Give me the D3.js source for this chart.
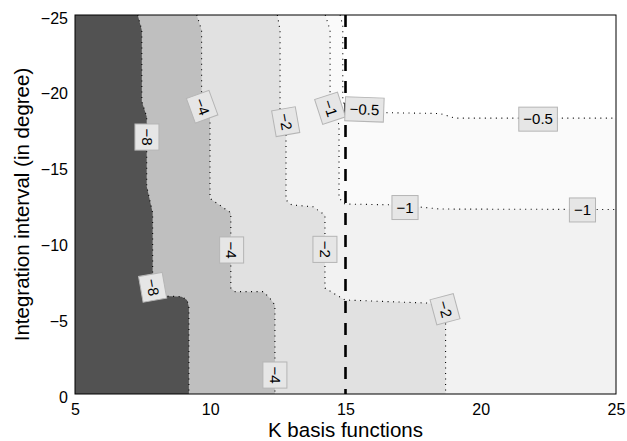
<html>
  <head>
    <meta charset="utf-8">
    <script src="https://cdnjs.cloudflare.com/ajax/libs/d3/7.8.5/d3.min.js"></script>
  </head>
  <body>
    <svg id="chart"></svg>

    <style>
      body {
        margin: 0;
        background: #fff;
        font-family: 'Liberation Sans', Arial, sans-serif;
      }
      #chart {
        display: block;
      }
      .axis text {
        font-size: 16px;
        fill: #000;
      }
      .axis path, .axis line {
        stroke: none;
      }
      .title {
        font-size: 20.5px;
        fill: #000;
      }
      .clabel text {
        font-size: 15px;
        fill: #000;
      }
    </style>

    <script>
      // Contour levels, from the lowest up
      const levels = [-8, -4, -2, -1, -0.5];

      // Contour lines as [K, interval] points
      const contour8 = [[7.32, -25], [7.47, -24.0], [7.47, -19.3], [7.65, -18.3], [7.65, -13.7],
        [7.87, -11.95], [7.87, -6.53], [8.33, -6.46], [8.94, -6.42], [9.14, -6.2], [9.21, -5.76], [9.21, 0]];
      const contour4 = [[9.50, -25], [9.68, -24.0], [9.68, -19.4], [9.99, -18.1], [9.99, -12.9],
        [10.76, -11.95], [10.76, -6.99], [10.92, -6.75], [11.96, -6.75], [12.21, -6.31], [12.39, -5.87], [12.39, 0]];
      const contour2 = [[12.48, -25], [12.58, -24.0], [12.58, -18.4], [12.80, -17.1], [12.80, -12.8],
        [13.01, -12.47], [13.80, -12.35], [14.24, -11.8], [14.24, -6.99], [14.98, -6.2], [18.0, -6.0],
        [18.5, -5.8], [18.70, -4.9], [18.70, 0]];
      const contour1 = [[14.25, -25], [14.43, -24.0], [14.43, -19.7], [14.76, -17.74], [14.76, -12.93],
        [14.98, -12.53], [17.0, -12.47], [18.5, -12.2], [25, -12.17]];
      const contour05 = [[14.80, -25], [14.90, -24.3], [14.90, -19.4], [15.06, -18.6], [18.49, -18.5],
        [19.05, -18.2], [25, -18.2]];

      // Inline contour labels
      const labelValues = [-8, -8, -4, -4, -4, -2, -2, -2, -1, -1, -1, -0.5, -0.5];
      const labelX = [7.66, 7.87, 9.70, 10.79, 12.39, 12.79, 14.24, 18.68, 14.43, 17.2, 23.76, 15.70, 22.12];
      const labelY = [-16.95, -7.04, -18.95, -9.5, -1.25, -17.96, -9.54, -5.59, -18.85, -12.3, -12.14, -18.77, -18.13];

      // Axis ticks
      const xTicks = [5, 10, 15, 20, 25];
      const yTicks = [-25, -20, -15, -10, -5, 0];
      const markerK = 15;

      // styling
      const fillColors = ['#525252', '#bfbfbf', '#e1e1e1', '#f2f2f2', '#fafafa'];
      const labelAngles = [90, 80, 70, 90, 90, 80, 90, 75, 72, 0, 0, 2, 0];

      const margin = {top: 15, right: 11, bottom: 47, left: 75};
      const totalW = 627, totalH = 441;
      const width = totalW - margin.left - margin.right;
      const height = totalH - margin.top - margin.bottom;

      const svg = d3.select('#chart')
        .attr('width', totalW)
        .attr('height', totalH);

      const g = svg.append('g')
        .attr('transform', 'translate(' + margin.left + ',' + margin.top + ')');

      const x = d3.scaleLinear().domain([5, 25]).range([0, width]);
      const y = d3.scaleLinear().domain([-25, 0]).range([0, height]);

      const contours = [contour8, contour4, contour2, contour1, contour05];

      // background: above the highest level
      g.append('rect')
        .attr('width', width)
        .attr('height', height)
        .attr('fill', '#fff');

      const line = d3.line()
        .x(function(d) { return x(d[0]); })
        .y(function(d) { return y(d[1]); });

      // Fill "below level" regions, lightest first so darker ones cover them
      const order = d3.range(levels.length).reverse();
      order.forEach(function(i) {
        const pts = contours[i].slice();
        const last = pts[pts.length - 1];
        if (last[0] === 25) pts.push([25, 0]);
        pts.push([5, 0]);
        pts.push([5, -25]);
        g.append('path')
          .attr('d', line(pts) + 'Z')
          .attr('fill', fillColors[i]);
      });

      // Dotted contour lines
      g.append('g')
        .selectAll('path')
        .data(contours)
        .enter().append('path')
        .attr('d', line)
        .attr('fill', 'none')
        .attr('stroke', '#000')
        .attr('stroke-width', 1.1)
        .attr('stroke-dasharray', '1,4.5');

      // Dashed line at K = 15
      g.append('line')
        .attr('x1', x(markerK))
        .attr('x2', x(markerK))
        .attr('y1', y(-25))
        .attr('y2', y(0))
        .attr('stroke', '#000')
        .attr('stroke-width', 2.6)
        .attr('stroke-dasharray', '12,10');

      // Contour labels
      const fmt = function(v) { return String(v).replace('-', '\u2212'); };
      const labels = g.append('g')
        .attr('class', 'clabel')
        .selectAll('g')
        .data(labelValues)
        .enter().append('g')
        .attr('transform', function(d, i) {
          return 'translate(' + x(labelX[i]) + ',' + y(labelY[i]) + ') rotate(' + labelAngles[i] + ')';
        });

      labels.append('rect');
      labels.append('text')
        .attr('text-anchor', 'middle')
        .attr('dy', '0.35em')
        .text(fmt);

      labels.each(function() {
        const sel = d3.select(this);
        const w = sel.select('text').node().getComputedTextLength() + 9;
        const h = 24;
        sel.select('rect')
          .attr('x', -w / 2)
          .attr('y', -h / 2)
          .attr('width', w)
          .attr('height', h)
          .attr('fill', '#e6e6e6')
          .attr('stroke', '#b5b5b5')
          .attr('stroke-width', 1);
      });

      // Axes
      g.append('g')
        .attr('class', 'axis axis-x')
        .attr('transform', 'translate(0,' + height + ')')
        .call(d3.axisBottom(x).tickValues(xTicks).tickSize(0).tickPadding(10));

      g.append('g')
        .attr('class', 'axis axis-y')
        .call(d3.axisLeft(y).tickValues(yTicks).tickSize(0).tickPadding(7))
        .selectAll('text')
        .attr('dy', '0.5em');

      // Box around the plot
      g.append('rect')
        .attr('width', width)
        .attr('height', height)
        .attr('fill', 'none')
        .attr('stroke', '#000')
        .attr('stroke-width', 1);

      // Titles
      svg.append('text')
        .attr('class', 'title')
        .attr('x', margin.left + width / 2)
        .attr('y', 437)
        .attr('text-anchor', 'middle')
        .text('K basis functions');

      svg.append('text')
        .attr('class', 'title')
        .attr('transform', 'translate(29,' + (margin.top + height / 2) + ') rotate(-90)')
        .attr('text-anchor', 'middle')
        .text('Integration interval (in degree)');
    </script>
  </body>
</html>
